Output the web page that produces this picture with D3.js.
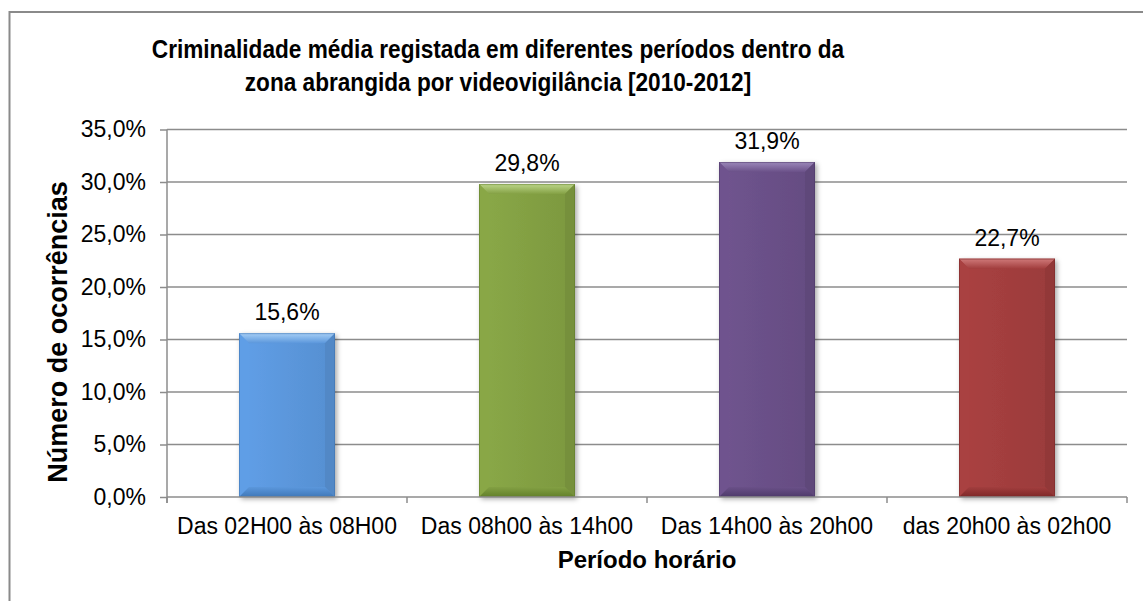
<!DOCTYPE html>
<html>
<head>
<meta charset="utf-8">
<script src="https://cdn.jsdelivr.net/npm/d3@7"></script>
<style>
  html, body { margin: 0; padding: 0; background: #fff; }
  svg { display: block; font-family: Arial, "Liberation Sans", sans-serif; }
</style>
</head>
<body>
<svg id="chart" width="1143" height="601"></svg>
<script>
const categories = ["Das 02H00 às 08H00", "Das 08h00 às 14h00", "Das 14h00 às 20h00", "das 20h00 às 02h00"];
const values = [15.6, 29.8, 31.9, 22.7];
const barColors = ["#5B97DC", "#83A043", "#6A5088", "#A23E3E"];
const barLight = ["#A6CFF6", "#BDD68A", "#9C88BA", "#D07A7A"];
const barDark = ["#3F78B8", "#62802A", "#4E3A6A", "#7E2828"];
const yTicks = [0, 5, 10, 15, 20, 25, 30, 35];
const titleLines = ["Criminalidade média registada em diferentes períodos dentro da", "zona abrangida por videovigilância [2010-2012]"];
const xTitle = "Período horário";
const yTitle = "Número de ocorrências";

const fmt = v => v.toFixed(1).replace(".", ",") + "%";

const svg = d3.select("#chart");
const W = 1143, H = 601;
const plot = { left: 167, right: 1127, top: 129.5, bottom: 497 };

svg.append("rect").attr("width", W).attr("height", H).attr("fill", "#fff");

// chart border (cropped at right and bottom)
svg.append("path")
  .attr("d", `M9.5,${H} L9.5,12 L${W},12`)
  .attr("fill", "none").attr("stroke", "#8a8a8a").attr("stroke-width", 2);

const x = d3.scaleBand().domain(categories).range([plot.left, plot.right])
  .paddingInner(0.6).paddingOuter(0.3);
const y = d3.scaleLinear().domain([0, 35]).range([plot.bottom, plot.top]);

const defs = svg.append("defs");
const f = defs.append("filter").attr("id", "shadow").attr("x", "-20%").attr("y", "-20%").attr("width", "140%").attr("height", "140%");
f.append("feDropShadow").attr("dx", 2).attr("dy", 2).attr("stdDeviation", 2.5).attr("flood-color", "#000").attr("flood-opacity", 0.35);

values.forEach((v, i) => {
  const g = defs.append("linearGradient").attr("id", "body" + i).attr("x1", 0).attr("x2", 1).attr("y1", 0).attr("y2", 0);
  g.append("stop").attr("offset", "0%").attr("stop-color", d3.color(barColors[i]).brighter(0.15));
  g.append("stop").attr("offset", "50%").attr("stop-color", barColors[i]);
  g.append("stop").attr("offset", "100%").attr("stop-color", d3.color(barColors[i]).darker(0.15));
  const t = defs.append("linearGradient").attr("id", "top" + i).attr("x1", 0).attr("x2", 0).attr("y1", 0).attr("y2", 1);
  t.append("stop").attr("offset", "0%").attr("stop-color", barLight[i]);
  t.append("stop").attr("offset", "100%").attr("stop-color", barColors[i]);
  const b = defs.append("linearGradient").attr("id", "bot" + i).attr("x1", 0).attr("x2", 0).attr("y1", 0).attr("y2", 1);
  b.append("stop").attr("offset", "0%").attr("stop-color", barColors[i]);
  b.append("stop").attr("offset", "100%").attr("stop-color", barDark[i]);
});

// gridlines
const grid = svg.append("g");
grid.selectAll("line").data(yTicks.filter(t => t > 0)).join("line")
  .attr("x1", plot.left).attr("x2", plot.right)
  .attr("y1", d => y(d)).attr("y2", d => y(d))
  .attr("stroke", "#8c8c8c").attr("stroke-width", 1.5);

// y axis
const yAxis = svg.append("g").attr("transform", `translate(${plot.left},0)`)
  .call(d3.axisLeft(y).tickValues(yTicks).tickFormat(fmt).tickSize(7).tickPadding(14));
yAxis.select(".domain").attr("stroke", "#8c8c8c").attr("stroke-width", 1.5)
  .attr("d", `M0,${plot.top}V${plot.bottom + 6}`);
yAxis.selectAll(".tick line").attr("stroke", "#8c8c8c").attr("stroke-width", 1.5);
yAxis.selectAll(".tick text").attr("font-size", 23).attr("fill", "#000")
  .attr("font-family", "Arial, 'Liberation Sans', sans-serif");

// bars
const bw = x.bandwidth();
const bev = 10;
const barsG = svg.append("g");
categories.forEach((c, i) => {
  const x0 = x(c), y0 = y(values[i]), h = y(0) - y0;
  const g = barsG.append("g");
  g.append("rect").attr("x", x0).attr("y", y0).attr("width", bw).attr("height", h)
    .attr("fill", `url(#body${i})`).attr("filter", "url(#shadow)");
  g.append("path").attr("d", `M${x0},${y0}L${x0 + bw},${y0}L${x0 + bw - bev},${y0 + bev}L${x0 + bev},${y0 + bev}Z`)
    .attr("fill", `url(#top${i})`);
  g.append("path").attr("d", `M${x0},${y0}L${x0 + bev},${y0 + bev}L${x0 + bev},${y0 + h - bev}L${x0},${y0 + h}Z`)
    .attr("fill", d3.color(barColors[i]).brighter(0.12));
  g.append("path").attr("d", `M${x0 + bw},${y0}L${x0 + bw - bev},${y0 + bev}L${x0 + bw - bev},${y0 + h - bev}L${x0 + bw},${y0 + h}Z`)
    .attr("fill", d3.color(barColors[i]).darker(0.3));
  g.append("path").attr("d", `M${x0},${y0 + h}L${x0 + bev},${y0 + h - bev}L${x0 + bw - bev},${y0 + h - bev}L${x0 + bw},${y0 + h}Z`)
    .attr("fill", `url(#bot${i})`);
  g.append("rect").attr("x", x0 + 0.5).attr("y", y0 + 0.5).attr("width", bw - 1).attr("height", h - 1)
    .attr("fill", "none").attr("stroke", d3.color(barDark[i]).darker(0.2)).attr("stroke-opacity", 0.5);
});

// x axis
const xAxisG = svg.append("g").attr("transform", `translate(0,${plot.bottom})`);
xAxisG.append("line").attr("x1", plot.left).attr("x2", plot.right).attr("y1", 0).attr("y2", 0)
  .attr("stroke", "#8c8c8c").attr("stroke-width", 1.5);
const bounds = categories.map(c => x(c) - x.step() * x.paddingInner() / 2).concat([plot.right]);
xAxisG.selectAll("line.tk").data(bounds).join("line").attr("class", "tk")
  .attr("x1", d => d).attr("x2", d => d).attr("y1", 0).attr("y2", 6)
  .attr("stroke", "#8c8c8c").attr("stroke-width", 1.5);
xAxisG.selectAll("text").data(categories).join("text")
  .attr("x", d => x(d) + bw / 2).attr("y", 37)
  .attr("text-anchor", "middle").attr("font-size", 23).attr("fill", "#000")
  .text(d => d);

// data labels
svg.append("g").selectAll("text").data(values).join("text")
  .attr("x", (d, i) => x(categories[i]) + bw / 2)
  .attr("y", d => y(d) - 13)
  .attr("text-anchor", "middle").attr("font-size", 23).attr("fill", "#000")
  .text(fmt);

// titles (slightly condensed to match the reference proportions)
svg.append("g").selectAll("text").data(titleLines).join("text")
  .attr("transform", (d, i) => `translate(498,${58 + i * 33}) scale(0.87,1)`)
  .attr("text-anchor", "middle").attr("font-size", 26).attr("font-weight", "bold").attr("fill", "#000")
  .text(d => d);

svg.append("text").attr("x", (plot.left + plot.right) / 2).attr("y", 568)
  .attr("text-anchor", "middle").attr("font-size", 24).attr("font-weight", "bold").text(xTitle);

svg.append("text").attr("transform", `translate(67,332) rotate(-90)`)
  .attr("text-anchor", "middle").attr("font-size", 27).attr("font-weight", "bold").text(yTitle);
</script>
</body>
</html>
